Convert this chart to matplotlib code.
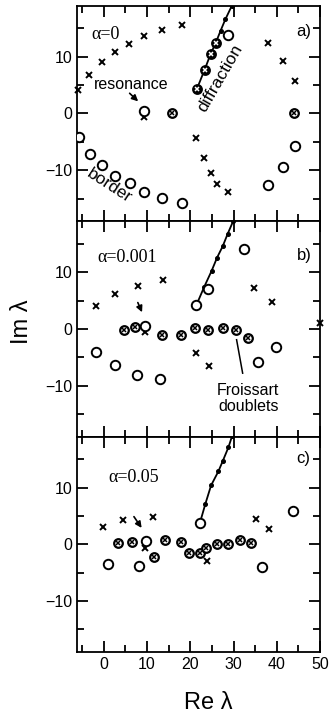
import numpy as np
import matplotlib.pyplot as plt
from matplotlib.ticker import MultipleLocator

plt.rcParams['font.family'] = ['Liberation Sans', 'DejaVu Sans']

# --- poles for alpha = 0 ---
a_cross_x = [-6.0, -3.4, -0.5, 2.5, 5.9, 9.3, 13.4, 18.0, 9.3,
             21.4, 23.2, 24.7, 26.1, 28.8, 38.0, 41.4, 44.2]
a_cross_y = [4.2, 6.8, 9.0, 10.8, 12.3, 13.7, 14.7, 15.6, -0.6,
             -4.4, -7.8, -10.5, -12.5, -13.8, 12.5, 9.2, 5.7]
a_circ_x = [-5.8, -3.2, -0.4, 2.5, 6.0, 9.3, 13.4, 18.0, 9.3,
            38.0, 41.4, 44.2, 28.8]
a_circ_y = [-4.2, -7.1, -9.1, -11.0, -12.3, -13.8, -14.9, -15.7, 0.5,
            -12.7, -9.5, -5.8, 13.9]
a_dbl_x = [15.8, 44.0]
a_dbl_y = [0.0, 0.0]
a_diff_x = [21.5, 23.3, 24.7, 25.9, 27.0, 28.1, 29.6]
a_diff_y = [4.3, 7.7, 10.5, 12.5, 14.6, 16.6, 19.0]

# --- alpha = 0.001 ---
b_cross_x = [-1.7, 2.5, 7.8, 13.7, 9.6, 21.4, 24.4, 34.7, 39.0, 50.0]
b_cross_y = [4.0, 6.1, 7.5, 8.7, -0.5, -4.2, -6.6, 7.3, 4.7, 1.1]
b_circ_x = [-1.85, 2.5, 7.6, 13.0, 9.6, 24.2, 32.4, 35.6, 39.8, 21.4]
b_circ_y = [-4.1, -6.3, -8.1, -8.9, 0.6, 7.1, 14.1, -5.8, -3.1, 4.2]
b_dbl_x = [4.6, 7.3, 13.5, 17.8, 21.1, 24.2, 27.6, 30.5, 33.4]
b_dbl_y = [-0.2, 0.4, -1.0, -1.0, 0.1, -0.1, 0.1, -0.1, -1.6]
b_diff_x = [21.4, 23.2, 24.9, 26.2, 27.5, 28.6, 29.9]
b_diff_y = [4.2, 7.4, 10.2, 12.6, 14.6, 16.7, 19.0]

# --- alpha = 0.05 ---
c_cross_x = [-0.3, 4.5, 11.4, 9.6, 23.9, 35.3, 38.2]
c_cross_y = [3.1, 4.3, 4.9, -0.7, -2.9, 4.5, 2.7]
c_circ_x = [1.0, 8.2, 9.7, 22.2, 36.5, 43.8]
c_circ_y = [-3.5, -3.8, 0.6, 3.75, -3.9, 5.95]
c_dbl_x = [3.3, 6.6, 11.6, 14.1, 17.8, 19.7, 22.2, 23.6, 26.1, 28.8, 31.6, 34.0]
c_dbl_y = [0.2, 0.35, -2.2, 0.8, 0.35, -1.5, -1.5, -0.7, 0.0, 0.0, 0.8, 0.2]
c_diff_x = [22.2, 23.5, 24.8, 26.5, 27.5, 28.8, 29.7]
c_diff_y = [3.75, 7.2, 10.4, 12.9, 14.7, 17.1, 19.2]

alphas = ['α=0', 'α=0.001', 'α=0.05']
alpha_pos = [(-2.8, 14.0), (-1.4, 12.6), (1.0, 11.8)]
tags = ['a)', 'b)', 'c)']
tag_y = [14.4, 12.9, 15.1]

fig, axes = plt.subplots(3, 1, figsize=(3.32, 7.19), dpi=100, sharex=True)
fig.subplots_adjust(left=0.232, right=0.964, top=0.992, bottom=0.093, hspace=0)

panels = [
    (a_cross_x, a_cross_y, a_circ_x, a_circ_y, a_dbl_x, a_dbl_y, a_diff_x, a_diff_y),
    (b_cross_x, b_cross_y, b_circ_x, b_circ_y, b_dbl_x, b_dbl_y, b_diff_x, b_diff_y),
    (c_cross_x, c_cross_y, c_circ_x, c_circ_y, c_dbl_x, c_dbl_y, c_diff_x, c_diff_y),
]

def doublet(ax, x, y, face='white', inner='k'):
    ax.plot(x, y, 'o', ms=6.2, mfc=face, mec='k', mew=1.6, ls='none', zorder=4)
    ax.plot(x, y, 'x', ms=3.2, mec=inner, mew=1.1, ls='none', zorder=5)

for i, (ax, p) in enumerate(zip(axes, panels)):
    cx, cy, ox, oy, dx, dy, fx, fy = p
    # diffraction line with its poles
    ax.plot(fx, fy, '-', color='k', lw=1.3, zorder=3)
    ax.plot(fx[1:], fy[1:], 'o', ms=2.6, color='k', zorder=3)
    ax.plot(cx, cy, 'x', ms=4.6, mec='k', mew=1.4, ls='none', zorder=4, clip_on=False)
    ax.plot(ox, oy, 'o', ms=6.8, mfc='white', mec='k', mew=1.4, ls='none', zorder=4)
    doublet(ax, dx, dy)
    if i == 0:
        doublet(ax, fx[:4], fy[:4], face='k', inner='white')

    ax.set_xlim(-6.2, 50)
    ax.set_ylim(-19, 19)
    ax.xaxis.set_major_locator(MultipleLocator(10))
    ax.xaxis.set_minor_locator(MultipleLocator(5))
    ax.yaxis.set_major_locator(MultipleLocator(10))
    ax.yaxis.set_minor_locator(MultipleLocator(5))
    ax.tick_params(which='both', direction='in', top=True, right=True,
                   width=1.3, labelsize=11.5)
    ax.tick_params(which='major', length=8)
    ax.tick_params(which='minor', length=5)
    for s in ax.spines.values():
        s.set_linewidth(1.3)
    ax.set_yticks([-10, 0, 10])
    ax.text(alpha_pos[i][0], alpha_pos[i][1], alphas[i], fontsize=13,
            family=['Liberation Serif', 'DejaVu Serif'], va='center', ha='left')
    ax.text(44.6, tag_y[i], tags[i], fontsize=12, va='center', ha='left')

ax0, ax1, ax2 = axes
ax0.text(6.4, 5.1, 'resonance', fontsize=11.5, ha='center', va='center')
ax0.annotate('', xy=(8.4, 1.8), xytext=(5.5, 3.9),
             arrowprops=dict(arrowstyle='-|>', color='k', lw=1.2, mutation_scale=9))
ax0.text(27.0, 6.3, 'diffraction', fontsize=12.5, rotation=60,
         ha='center', va='center')
ax0.text(1.4, -12.7, 'border', fontsize=12.5, rotation=-33,
         ha='center', va='center')

ax1.annotate('', xy=(9.1, 2.5), xytext=(7.6, 5.1),
             arrowprops=dict(arrowstyle='-|>', color='k', lw=1.2, mutation_scale=9))
ax1.plot([30.7, 32.1], [-1.9, -7.8], color='k', lw=1.1)
ax1.text(33.4, -12.3, 'Froissart\ndoublets', fontsize=11.5, ha='center',
         va='center', linespacing=1.05)

ax2.annotate('', xy=(9.1, 2.5), xytext=(6.6, 5.3),
             arrowprops=dict(arrowstyle='-|>', color='k', lw=1.2, mutation_scale=9))

ax2.set_xticks([0, 10, 20, 30, 40, 50])
lab_font = ['Liberation Sans Narrow', 'Liberation Sans', 'DejaVu Sans']
fig.text(0.627, 0.022, 'Re λ', fontsize=17, family=lab_font, ha='center', va='center')
fig.text(0.066, 0.552, 'Im λ', fontsize=17, family=lab_font, ha='center',
         va='center', rotation=90)

fig.savefig('out.png', dpi=100)
